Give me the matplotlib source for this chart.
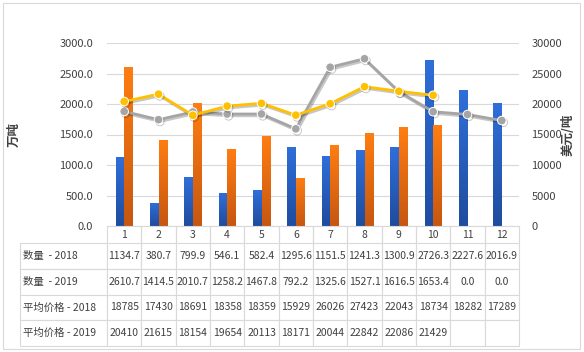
import numpy as np
import matplotlib
matplotlib.use("Agg")
from matplotlib import pyplot as plt
from matplotlib import patheffects as pe
from matplotlib.colors import LinearSegmentedColormap
from matplotlib.patches import Rectangle

plt.rcParams['font.family'] = ['Noto Sans CJK SC', 'DejaVu Sans']

months = [1, 2, 3, 4, 5, 6, 7, 8, 9, 10, 11, 12]
qty_2018 = [1134.7, 380.7, 799.9, 546.1, 582.4, 1295.6, 1151.5, 1241.3, 1300.9, 2726.3, 2227.6, 2016.9]
qty_2019 = [2610.7, 1414.5, 2010.7, 1258.2, 1467.8, 792.2, 1325.6, 1527.1, 1616.5, 1653.4, 0.0, 0.0]
price_2018 = [18785, 17430, 18691, 18358, 18359, 15929, 26026, 27423, 22043, 18734, 18282, 17289]
price_2019 = [20410, 21615, 18154, 19654, 20113, 18171, 20044, 22842, 22086, 21429, None, None]
row_names = ["数量  - 2018", "数量  - 2019", "平均价格 - 2018", "平均价格 - 2019"]

TXT = '#404040'
GRID = '#D9D9D9'

fig = plt.figure(figsize=(5.84, 3.52), dpi=100)
W, H = 584, 352
ax = fig.add_axes([107 / W, (H - 226) / H, 412 / W, 183 / H])
ax2 = ax.twinx()

x = np.array(months)
bw = 0.25


def gradient_bars(axis, xs, vals, top, bottom):
    bars = axis.bar(xs, vals, bw, color=top, zorder=2)
    cmap = LinearSegmentedColormap.from_list('g', [bottom, top])
    grad = np.linspace(0, 1, 64).reshape(-1, 1)
    for b in bars:
        if b.get_height() <= 0:
            continue
        x0, y0 = b.get_x(), b.get_y()
        im = axis.imshow(grad, cmap=cmap, origin='lower', aspect='auto',
                         extent=[x0, x0 + b.get_width(), y0, y0 + b.get_height()],
                         zorder=2.1, interpolation='bilinear')
        im.set_clip_path(b)
    return bars


gradient_bars(ax, x - bw / 2, qty_2018, '#2F6FDA', '#1F4C9E')
gradient_bars(ax, x + bw / 2, qty_2019, '#FF7D12', '#C65710')

ax.set_xlim(0.5, 12.5)
ax.set_ylim(0, 3000)
ax.set_yticks(np.arange(0, 3001, 500))
ax.set_yticklabels([f"{v:.1f}" for v in np.arange(0, 3001, 500)])
ax.grid(axis='y', color=GRID, lw=0.8, zorder=0)
ax.set_axisbelow(True)
ax.tick_params(axis='y', length=0, pad=10, labelsize=8, labelcolor=TXT)
ax.tick_params(axis='x', length=0, labelbottom=False)
for s in ['top', 'left', 'right']:
    ax.spines[s].set_visible(False)
ax.spines['bottom'].set_color(GRID)
ax.set_ylabel("万吨", fontsize=9, color=TXT, fontweight='bold')
ax.yaxis.set_label_coords((21 - 107) / 412, 0.5)

shadow = [pe.SimpleLineShadow(offset=(1.0, -1.3), shadow_color='k', alpha=0.22), pe.Normal()]
p19 = [np.nan if v is None else v for v in price_2019]
ax2.plot(x, price_2018, color='#A5A5A5', lw=2, marker='o', ms=6.2,
         mfc='#A5A5A5', mec='white', mew=0.7, path_effects=shadow, zorder=3)
ax2.plot(x, p19, color='#FFC000', lw=2, marker='o', ms=6.2,
         mfc='#FFC000', mec='white', mew=0.7, path_effects=shadow, zorder=3)
ax2.set_ylim(0, 30000)
ax2.set_yticks(np.arange(0, 30001, 5000))
ax2.tick_params(axis='y', length=0, pad=9, labelsize=8, labelcolor=TXT)
for s in ax2.spines.values():
    s.set_visible(False)
ax2.set_ylabel("美元/吨", fontsize=9, color=TXT, fontweight='bold')
ax2.yaxis.set_label_coords((562 - 107) / 412, 0.5)

# data table below the plot
rows = [
    [row_names[0]] + [f"{v:.1f}" for v in qty_2018],
    [row_names[1]] + [f"{v:.1f}" for v in qty_2019],
    [row_names[2]] + [str(v) for v in price_2018],
    [row_names[3]] + ['' if v is None else str(v) for v in price_2019],
]
col_w = [87] + [412 / 12] * 12
tbl = ax.table(cellText=rows, colLabels=[''] + [str(m) for m in months],
               cellLoc='center', colWidths=[c / sum(col_w) for c in col_w],
               bbox=[(20 - 107) / 412, -(346 - 226) / 183, 499 / 412, 120 / 183])
tbl.auto_set_font_size(False)
tbl.set_fontsize(7.5)
for (r, c), cell in tbl.get_celld().items():
    cell.set_edgecolor(GRID)
    cell.set_linewidth(0.8)
    cell.get_text().set_color(TXT)
    if r == 0:
        cell.set_height(17)
        cell.visible_edges = 'LR' if c > 0 else ''
    else:
        cell.set_height(25.75)
    if c == 0 and r > 0:
        cell._loc = 'left'
        cell.get_text().set_horizontalalignment('left')
        cell.PAD = 0.03

fig.patches.append(Rectangle((3 / W, 3 / H), 577 / W, 346 / H, transform=fig.transFigure,
                             fill=False, ec=GRID, lw=0.8))

fig.savefig("out.png", dpi=100)
